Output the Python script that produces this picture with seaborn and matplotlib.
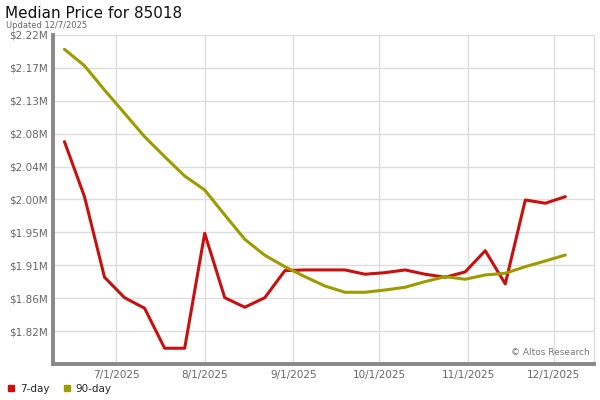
import matplotlib
matplotlib.use("Agg")
import matplotlib.pyplot as plt
from matplotlib.lines import Line2D
import seaborn as sns
import pandas as pd

dates = pd.date_range("2025-06-13", "2025-12-05", freq="7D")
red_7day = [2.0737, 1.9994, 1.8905, 1.8629, 1.8486, 1.7946, 1.7946, 1.9499, 1.8629, 1.8500,
            1.8629, 1.8994, 1.9004, 1.9004, 1.9004, 1.8946, 1.8967, 1.9004, 1.8946, 1.8905,
            1.8977, 1.9264, 1.8815, 1.9949, 1.9905, 1.9994]
olive_90day = [2.1985, 2.1763, 2.1435, 2.1120, 2.0804, 2.0534, 2.0273, 2.0084, 1.9747, 1.9418,
               1.9202, 1.9048, 1.8913, 1.8787, 1.8702, 1.8702, 1.8733, 1.8770, 1.8846, 1.8913,
               1.8878, 1.8936, 1.8959, 1.9048, 1.9125, 1.9206]
series_names = ["7-day", "90-day"]
colors = ["#c8100f", "#9c9c00"]
y_tick_labels = ["$1.82M", "$1.86M", "$1.91M", "$1.95M", "$2.00M", "$2.04M", "$2.08M",
                 "$2.13M", "$2.17M", "$2.22M"]
x_tick_dates = pd.to_datetime(["2025-07-01", "2025-08-01", "2025-09-01", "2025-10-01",
                               "2025-11-01", "2025-12-01"])
x_tick_labels = ["7/1/2025", "8/1/2025", "9/1/2025", "10/1/2025", "11/1/2025", "12/1/2025"]

df = pd.DataFrame({
    "date": list(dates) * 2,
    "price": red_7day + olive_90day,
    "series": [series_names[0]] * len(dates) + [series_names[1]] * len(dates),
})

sns.set_theme(style="white")
plt.rcParams["font.family"] = ["DejaVu Sans"]

fig = plt.figure(figsize=(6, 4), dpi=100)
ax = fig.add_axes([53 / 600, 36 / 400, 541 / 600, 329 / 400])

sns.lineplot(data=df, x="date", y="price", hue="series", palette=colors,
             linewidth=2.2, ax=ax, legend=False)

ymin, ymax = 1.7733, 2.2178
step = (ymax - ymin) / 10
ax.set_ylim(ymin, ymax)
ax.set_yticks([ymin + step * (k + 1) for k in range(10)])
ax.set_yticklabels(y_tick_labels)
ax.set_xlim(pd.Timestamp("2025-06-09"), pd.Timestamp("2025-12-15"))
ax.set_xticks(x_tick_dates)
ax.set_xticklabels(x_tick_labels)

ax.grid(True, color="#dddddd", linewidth=1)
ax.set_axisbelow(True)
ax.tick_params(axis="both", length=0, labelsize=7.5, colors="#666666", pad=4)
ax.set_xlabel("")
ax.set_ylabel("")
for s in ["left", "bottom"]:
    ax.spines[s].set_color("#888888")
    ax.spines[s].set_linewidth(2.8)
ax.spines["top"].set_visible(False)
ax.spines["right"].set_color("#dddddd")
ax.spines["right"].set_linewidth(1)

fig.text(5 / 600, 1 - 13 / 400, "Median Price for 85018", fontsize=11, color="#111111",
         va="center", ha="left")
fig.text(6 / 600, 1 - 25 / 400, "Updated 12/7/2025", fontsize=6, color="#666666",
         va="center", ha="left")
ax.text(0.993, 0.02, "© Altos Research", transform=ax.transAxes, fontsize=6.5,
        color="#777777", ha="right", va="bottom")

handles = [Line2D([], [], marker="s", linestyle="none", color=c, markersize=5) for c in colors]
fig.legend(handles, series_names, loc="lower left", bbox_to_anchor=(0, 0.0),
           ncol=2, frameon=False, fontsize=7.5, handletextpad=0.3, columnspacing=1.2,
           handlelength=1, borderaxespad=0.2)

fig.savefig("out.png", dpi=100)
